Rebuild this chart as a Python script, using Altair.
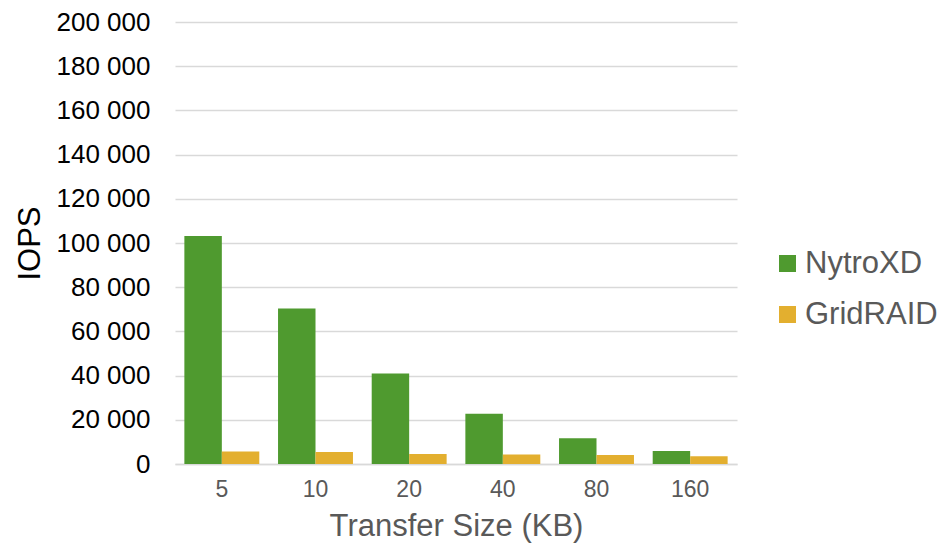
import altair as alt
import pandas as pd

sizes = ["5", "10", "20", "40", "80", "160"]
nytroxd = [103200, 70400, 41000, 22700, 11700, 5900]
gridraid = [5600, 5400, 4500, 4300, 4100, 3500]
series = ["NytroXD", "GridRAID"]
colors = ["#4F9A2F", "#E3AF2F"]

rows = []
for s, a, b in zip(sizes, nytroxd, gridraid):
    rows.append({"size": s, "series": "NytroXD", "iops": a})
    rows.append({"size": s, "series": "GridRAID", "iops": b})
df = pd.DataFrame(rows)

FONT = "Liberation Sans"

chart = alt.Chart(df).mark_bar().encode(
    x=alt.X(
        "size:N",
        sort=sizes,
        title="Transfer Size (KB)",
        scale=alt.Scale(paddingInner=0.2, paddingOuter=0.1),
        axis=alt.Axis(
            labelAngle=0,
            labelFont=FONT,
            labelFontSize=23,
            labelColor="#595959",
            labelPadding=14,
            titleFont=FONT,
            titleFontSize=31,
            titleFontWeight="normal",
            titleColor="#595959",
            titlePadding=10,
            domainColor="#d9d9d9",
            domainWidth=1.5,
            ticks=False,
        ),
    ),
    xOffset=alt.XOffset("series:N", sort=series),
    y=alt.Y(
        "iops:Q",
        title="IOPS",
        scale=alt.Scale(domain=[0, 200000], nice=False),
        axis=alt.Axis(
            values=list(range(0, 200001, 20000)),
            format=",d",
            labelFont=FONT,
            labelFontSize=26,
            labelColor="#000000",
            labelPadding=25,
            titleFont=FONT,
            titleFontSize=31,
            titleFontWeight="normal",
            titleColor="#000000",
            titlePadding=10,
            domain=False,
            ticks=False,
            gridColor="#d9d9d9",
            gridWidth=1.5,
        ),
    ),
    color=alt.Color(
        "series:N",
        sort=series,
        scale=alt.Scale(domain=series, range=colors),
        legend=alt.Legend(
            title=None,
            orient="none",
            legendX=597,
            legendY=226,
            symbolType="square",
            symbolSize=289,
            symbolStrokeWidth=0,
            labelFont=FONT,
            labelFontSize=31,
            labelColor="#595959",
            labelOffset=2,
            rowPadding=19,
        ),
    ),
).properties(
    width=562,
    height=442,
    autosize=alt.AutoSizeParams(type="none"),
    padding={"left": 175, "top": 22, "right": 205, "bottom": 86},
).configure(
    locale={"number": {"decimal": ".", "thousands": " ", "grouping": [3], "currency": ["", ""]}},
).configure_view(stroke=None)

chart.save("out.html", embed_options={"renderer": "svg", "actions": False})
